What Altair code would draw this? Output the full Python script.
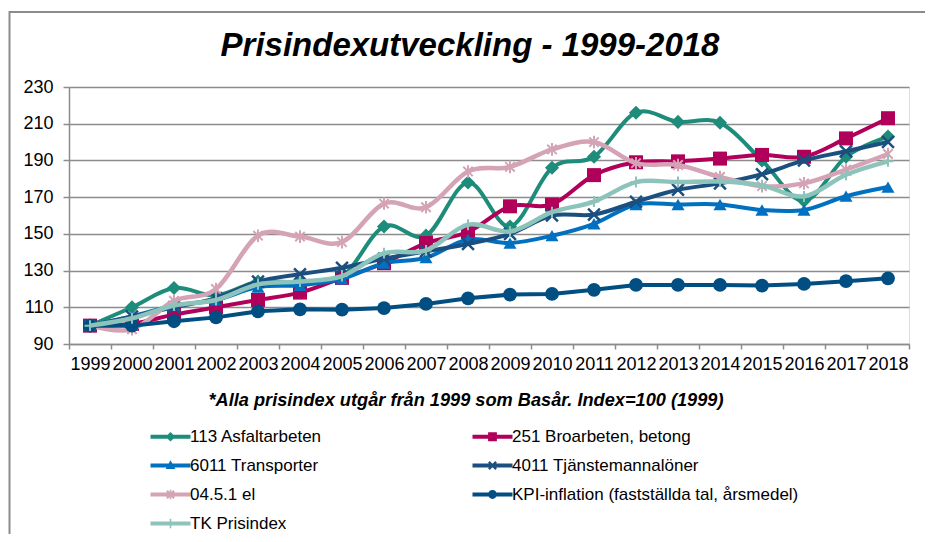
import altair as alt
import pandas as pd

years = [str(y) for y in range(1999, 2019)]

series = ["113 Asfaltarbeten", "251 Broarbeten, betong", "6011 Transporter",
          "4011 Tjänstemannalöner", "04.5.1 el",
          "KPI-inflation (fastställda tal, årsmedel)", "TK Prisindex"]

asfalt = [100, 110, 120.5, 116.5, 124, 123.5, 126.5, 154, 149, 178, 154, 186, 192, 216, 211, 210.5, 190, 168, 192, 203]
broar = [100, 101, 106, 110, 114, 118, 126, 134, 145, 151, 165, 166, 182, 189, 189.5, 191, 193, 192, 202, 213]
transp = [100, 105, 111, 114, 121, 122, 125.5, 134, 137, 147, 145, 149, 155.5, 166, 166, 166, 163, 163, 170.5, 175.5]
tjm = [100, 105, 110, 115, 124, 128, 131.5, 136.5, 140.5, 144.5, 150, 160, 160.5, 167.5, 174, 177.5, 182.5, 190, 195, 200]
el = [100, 98, 113.5, 120, 149, 148.5, 145.5, 166.5, 164.5, 184, 186.5, 196, 200, 188.5, 187.5, 181, 176, 177.5, 185, 193.5]
kpi = [100, 100, 102.4, 104.5, 107.8, 108.9, 108.7, 109.6, 111.8, 114.9, 116.9, 117.3, 119.5, 122.2, 122.2, 122.2, 121.8, 122.7, 124.2, 125.8]
tk = [100, 104, 111, 114, 122.5, 124, 127, 139.5, 141, 155, 151.3, 161.8, 167.6, 178.2, 178.2, 178.5, 176.4, 170.4, 182.2, 189.5]

colors = ["#1d8c7a", "#b0005a", "#0070c0", "#1a4f7f", "#d4a3b6", "#004e82", "#8cc4bb"]
y_ticks = [90, 110, 130, 150, 170, 190, 210, 230]

title_text = "Prisindexutveckling - 1999-2018"
note_text = "*Alla prisindex utgår från 1999 som Basår. Index=100 (1999)"

values = [asfalt, broar, transp, tjm, el, kpi, tk]
rows = []
for name, vals in zip(series, values):
    for yr, v in zip(years, vals):
        rows.append({"serie": name, "year": yr, "value": v})
df = pd.DataFrame(rows)

FONT = "Liberation Sans"

X_PATH = "M-1,-1L1,1M1,-1L-1,1"
AST_PATH = "M-0.9,-0.9L0.9,0.9M0.9,-0.9L-0.9,0.9M0,-1.2L0,1.2"
PLUS_PATH = "M0,-1L0,1M-1,0L1,0"
markers = [
    ("diamond", True, 200, 0),
    ("square", True, 196, 0),
    ("triangle-up", True, 170, 0),
    (X_PATH, False, 140, 2.5),
    (AST_PATH, False, 110, 2),
    ("circle", True, 190, 0),
    (PLUS_PATH, False, 120, 2),
]

LINE = "M-2.5,-0.25H2.5V0.25H-2.5Z"
XSYM = ("M-0.55,-0.35L-0.35,-0.55L0.55,0.35L0.35,0.55Z"
        "M0.55,-0.35L-0.35,0.55L-0.55,0.35L0.35,-0.55Z")
leg_paths = [
    LINE + "M0,-0.6L0.6,0L0,0.6L-0.6,0Z",
    LINE + "M-0.55,-0.55H0.55V0.55H-0.55Z",
    LINE + "M0,-0.65L0.6,0.45L-0.6,0.45Z",
    LINE + XSYM,
    LINE + XSYM + "M-0.1,-0.6H0.1V0.6H-0.1Z",
    LINE + "M-0.55,0A0.55,0.55 0 1,1 0.55,0A0.55,0.55 0 1,1 -0.55,0Z",
    LINE + "M-0.1,-0.6H0.1V0.6H-0.1Z",
]

W, H = 840, 257

x_enc = alt.X("year:O", sort=years, bandPosition=0.5,
              scale=alt.Scale(type="band", paddingInner=0, paddingOuter=0),
              axis=alt.Axis(title=None, labelAngle=0, labelOverlap=False,
                            labelFont=FONT, labelFontSize=18, labelColor="black",
                            labelPadding=6, tickBand="extent", tickSize=5,
                            tickColor="#8c8c8c", tickWidth=1.5,
                            domainColor="#8c8c8c", domainWidth=1.5, grid=False))
y_enc = alt.Y("value:Q", scale=alt.Scale(domain=[90, 230], nice=False, zero=False),
              axis=alt.Axis(title=None, values=y_ticks, grid=True, labelOverlap=False,
                            gridColor="#8c8c8c", gridWidth=1.5,
                            labelFont=FONT, labelFontSize=18, labelColor="black",
                            labelPadding=10, tickSize=6, tickColor="#8c8c8c",
                            tickWidth=1.5, domainColor="#8c8c8c", domainWidth=1.5))

base = alt.Chart(df)
layers = []
for i, name in enumerate(series):
    shape, filled, size, sw = markers[i]
    sub = base.transform_filter(alt.datum.serie == name)
    interp = "linear" if name.startswith("KPI") else "cardinal"
    lw = 4.5 if name in ("04.5.1 el", "TK Prisindex") else 4
    line = sub.mark_line(interpolate=interp, strokeWidth=lw, color=colors[i]).encode(
        x=x_enc, y=y_enc)
    if filled:
        pts = sub.mark_point(shape=shape, filled=True, size=size, opacity=1,
                             color=colors[i]).encode(x=x_enc, y=y_enc)
    else:
        pts = sub.mark_point(shape=shape, filled=False, size=size, strokeWidth=sw,
                             opacity=1, color=colors[i]).encode(x=x_enc, y=y_enc)
    layers += [line, pts]

legend = alt.Legend(title=None, orient="none", legendX=93, legendY=341, columns=2,
                    direction="horizontal",
                    symbolSize=256, symbolStrokeWidth=0, labelFont=FONT,
                    labelFontSize=17, labelColor="black", labelOffset=11,
                    columnPadding=150, rowPadding=11, padding=0, labelLimit=0,
                    symbolOpacity=1)
leg_layer = base.mark_point(filled=True, opacity=0).encode(
    x=x_enc, y=y_enc,
    color=alt.Color("serie:N", scale=alt.Scale(domain=series, range=colors),
                    legend=legend),
    shape=alt.Shape("serie:N", scale=alt.Scale(domain=series, range=leg_paths),
                    legend=legend))

one = pd.DataFrame({"t": [0]})
title_layer = alt.Chart(one).mark_text(
    text=title_text, font=FONT, fontSize=33, fontStyle="italic", fontWeight="bold",
    align="center", baseline="alphabetic", color="black").encode(
    x=alt.value(401), y=alt.value(-31))
note_layer = alt.Chart(one).mark_text(
    text=note_text, font=FONT, fontSize=18.2, fontStyle="italic", fontWeight="bold",
    align="center", baseline="alphabetic", color="black").encode(
    x=alt.value(397), y=alt.value(319))
frame = alt.Chart(one).mark_rect(fill="transparent", stroke="#8c8c8c",
                                 strokeWidth=2).encode(
    x=alt.value(-59.5), x2=alt.value(860.5), y=alt.value(-75), y2=alt.value(480))

chart = alt.layer(frame, leg_layer, *layers, title_layer, note_layer).properties(
    width=W, height=H,
    autosize=alt.AutoSizeParams(type="none"),
    padding={"left": 61, "top": 79, "right": 16, "bottom": 190},
).configure_view(fill="#e6e6e6", strokeWidth=0).configure(background="white")

chart.save("out.html", embed_options={"renderer": "svg", "actions": False})
